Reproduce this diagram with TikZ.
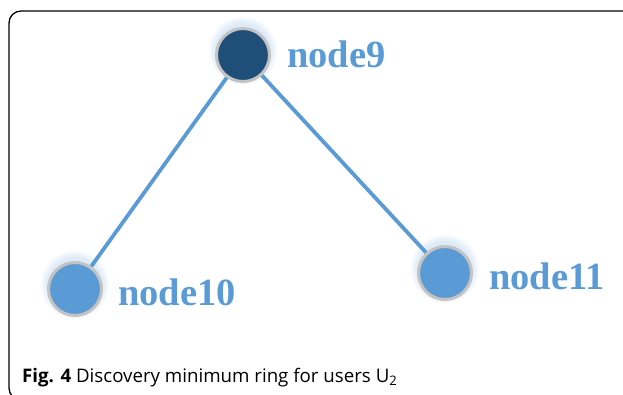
\documentclass[tikz,border=0pt]{standalone}
\usepackage{fontspec}
\setmainfont{Liberation Serif}
\newfontfamily\capfont{Open Sans}
\usetikzlibrary{backgrounds}
\definecolor{lblue}{HTML}{5B9BD5}
\definecolor{dblue}{HTML}{1F4E79}
\definecolor{ring}{HTML}{C3C3C3}
\begin{document}
\begin{tikzpicture}[x=1pt,y=-1pt,
  vert/.style={circle,draw=ring,line width=3pt,minimum size=53pt,inner sep=0pt},
  lbl/.style={text=lblue,font=\fontsize{38.5}{38.5}\selectfont\bfseries,anchor=west,inner sep=0pt},
  edge/.style={draw=lblue,line width=3.8pt}]
\useasboundingbox (0,0) rectangle (623,394);
\draw[line width=1.3pt,rounded corners=12pt] (623,11) -- (9,11) -- (9,400) -- (30,400);
\node[vert,fill=dblue] (n9) at (243,55) {};
\node[vert,fill=lblue] (n10) at (75,289) {};
\node[vert,fill=lblue] (n11) at (445,273) {};
\begin{scope}[on background layer]
  \foreach \n in {n9,n10,n11}{
    \foreach \r in {28,29.5,...,34}{
      \fill[lblue,opacity=0.045] ([yshift=4pt]\n.center) circle[radius=\r pt];
    }
  }
\end{scope}
\draw[edge] (n9) -- (n10);
\draw[edge] (n9) -- (n11);
\node[lbl] (l9) at (287,54) {node9};
\node[lbl] (l10) at (118,292) {node10};
\node[lbl] (l11) at (489,276) {node11};
\node[anchor=base west,inner sep=0pt,font=\capfont\fontsize{18.7}{18.7}\selectfont] (cap) at (22,382)
  {\textbf{Fig. 4} Discovery minimum ring for users U\textsubscript{2}};
\end{tikzpicture}
\end{document}
